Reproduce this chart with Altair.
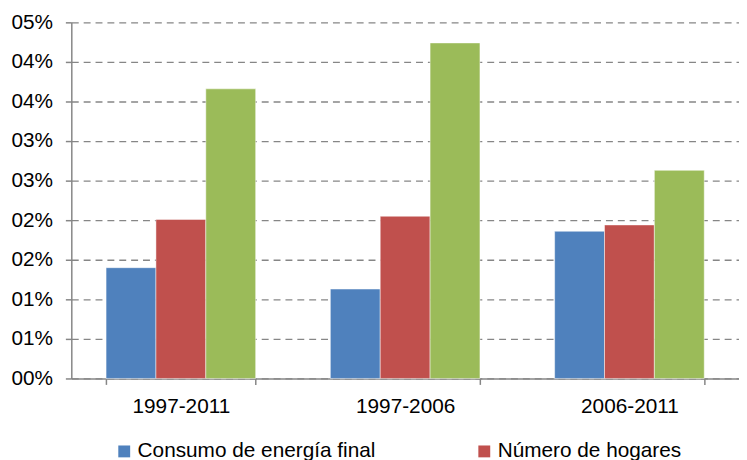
import json
import altair as alt
import pandas as pd

periods = ["1997-2011", "1997-2006", "2006-2011"]
series = ["Consumo de energía final", "Número de hogares", "Superficie de viviendas"]
consumo = [0.0140, 0.0113, 0.0186]
hogares = [0.0201, 0.0205, 0.0194]
superficie = [0.0366, 0.0424, 0.0263]
tick_values = [0, 0.005, 0.01, 0.015, 0.02, 0.025, 0.03, 0.035, 0.04, 0.045]
tick_labels = ["00%", "01%", "01%", "02%", "02%", "03%", "03%", "04%", "04%", "05%"]
colors = ["#4F81BD", "#C0504D", "#9BBB59"]

rows = []
for i, p in enumerate(periods):
    for s, vals in zip(series, [consumo, hogares, superficie]):
        rows.append({"periodo": p, "serie": s, "valor": vals[i]})
df = pd.DataFrame(rows)

label_expr = json.dumps(tick_labels) + "[round(datum.value / 0.005)]"
FONT = "Liberation Sans"
FS = 21

chart = alt.Chart(df).mark_bar(stroke="#ffffff", strokeOpacity=0.6, strokeWidth=0.8).encode(
    x=alt.X("periodo:N", sort=periods,
            scale=alt.Scale(paddingInner=0.333, paddingOuter=0.155),
            axis=alt.Axis(title=None, labelAngle=0, labelFontSize=FS, labelColor="#000000",
                          labelFont=FONT, tickBand="extent", tickSize=6, tickColor="#868686",
                          domainColor="#868686", domainWidth=1.5, tickWidth=1.5,
                          labelPadding=11, grid=False)),
    xOffset=alt.XOffset("serie:N", sort=series, scale=alt.Scale(paddingInner=0, paddingOuter=0)),
    y=alt.Y("valor:Q", scale=alt.Scale(domain=[0, 0.045], nice=False),
            axis=alt.Axis(title=None, values=tick_values, labelExpr=label_expr,
                          labelFontSize=FS, labelColor="#000000", labelFont=FONT,
                          tickSize=6, tickColor="#868686", tickWidth=1.5,
                          domainColor="#868686", domainWidth=1.5, labelPadding=13,
                          grid=True, gridColor="#868686", gridWidth=1.3, gridDash=[7, 5])),
    color=alt.Color("serie:N", sort=series, scale=alt.Scale(domain=series, range=colors),
                    legend=alt.Legend(title=None, orient="none", direction="horizontal",
                                      legendX=43, legendY=423, symbolType="square",
                                      symbolSize=144, symbolStrokeWidth=0, labelFontSize=FS,
                                      labelFont=FONT, labelColor="#000000", labelOffset=3,
                                      gridAlign="all", columnPadding=99, labelLimit=400)),
).properties(
    width=675, height=360,
    autosize=alt.AutoSizeParams(type="none"),
    padding={"left": 64, "top": 12, "right": 0, "bottom": 88},
).configure_view(stroke=None)

chart.save("out.html", embed_options={"renderer": "svg", "actions": False})
